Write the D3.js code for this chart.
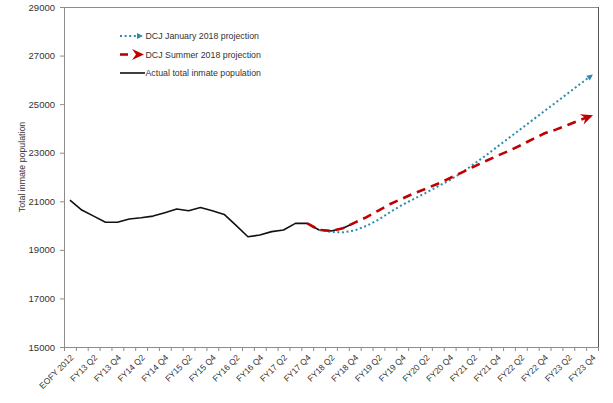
<!DOCTYPE html>
<html>
<head>
<meta charset="utf-8">
<script src="https://cdn.jsdelivr.net/npm/d3@7/dist/d3.min.js"></script>
<style>
  html, body { margin: 0; padding: 0; background: #fff; }
  svg { display: block; font-family: "Liberation Sans", Arial, sans-serif; }
</style>
</head>
<body>
<svg id="chart" width="613" height="403"></svg>
<script>
// ---------------- DATA ----------------
const categories = ["EOFY 2012"];
["13","14","15","16","17","18","19","20","21","22","23"].forEach(y => {
  ["Q1","Q2","Q3","Q4"].forEach(q => categories.push("FY" + y + " " + q));
});

// Actual total inmate population: EOFY 2012 .. FY18 Q4
const actualStart = "EOFY 2012";
const actualValues = [21050, 20640, 20390, 20135, 20135, 20270, 20320, 20390, 20530,
  20680, 20610, 20740, 20610, 20460, 20010, 19540, 19610, 19750, 19820, 20090,
  20090, 19820, 19780, 19890, 20120];

// DCJ January 2018 projection: FY18 Q1 .. FY23 Q4
const januaryStart = "FY18 Q1";
const januaryValues = [19818, 19740, 19720, 19800, 19990, 20240, 20560, 20850, 21100,
  21350, 21610, 21870, 22170, 22520, 22870, 23240, 23610, 23980, 24350, 24720,
  25090, 25460, 25830, 26200];

// DCJ Summer 2018 projection: FY17 Q4 .. FY23 Q4
const summerStart = "FY17 Q4";
const summerValues = [20090, 19820, 19780, 19890, 20120, 20350, 20620, 20890, 21110,
  21330, 21520, 21720, 21950, 22180, 22420, 22650, 22870, 23080, 23310, 23560,
  23800, 23960, 24150, 24350, 24530];

const yTicks = [15000, 17000, 19000, 21000, 23000, 25000, 27000, 29000];
const xLabels = categories.filter((c, i) => i % 2 === 0);

const legendItems = [
  { label: "DCJ January 2018 projection", key: "jan" },
  { label: "DCJ Summer 2018 projection", key: "sum" },
  { label: "Actual total inmate population", key: "act" }
];

// ---------------- LAYOUT ----------------
const svg = d3.select("#chart");
const plot = { left: 64, right: 598, top: 7, bottom: 347 };
const colors = { jan: "#3189ac", sum: "#c00000", act: "#111111" };
const textColor = "#333";

const x = d3.scaleBand().domain(categories).range([plot.left, plot.right]).padding(0);
const xEdge = d3.scaleLinear().domain([0, categories.length]).range([plot.left, plot.right]);
const y = d3.scaleLinear().domain([15000, 29000]).range([plot.bottom, plot.top]);
const cx = c => x(c) + x.bandwidth() / 2;

function seriesPoints(start, values) {
  const s = categories.indexOf(start);
  return values.map((v, i) => ({ c: categories[s + i], v }));
}

// markers
const defs = svg.append("defs");
defs.append("marker")
  .attr("id", "arrowBlue").attr("markerUnits", "userSpaceOnUse")
  .attr("viewBox", "-6 -4 8 8").attr("refX", 0).attr("refY", 0)
  .attr("markerWidth", 8).attr("markerHeight", 8).attr("orient", "auto")
  .append("path").attr("d", "M1,0 L-5,-3 L-5,3 Z").attr("fill", colors.jan);
defs.append("marker")
  .attr("id", "arrowRed").attr("markerUnits", "userSpaceOnUse")
  .attr("viewBox", "-13 -7 15 14").attr("refX", 0).attr("refY", 0)
  .attr("markerWidth", 15).attr("markerHeight", 14).attr("orient", "auto")
  .append("path").attr("d", "M1,0 L-11,-5.5 L-7,0 L-11,5.5 Z").attr("fill", colors.sum);

// plot border
svg.append("rect")
  .attr("x", plot.left).attr("y", plot.top)
  .attr("width", plot.right - plot.left).attr("height", plot.bottom - plot.top)
  .attr("fill", "none").attr("stroke", "#8c8c8c").attr("stroke-width", 1)
  .attr("shape-rendering", "crispEdges");
svg.append("line")
  .attr("x1", plot.right).attr("x2", plot.right).attr("y1", plot.top).attr("y2", plot.bottom)
  .attr("stroke", "#555").attr("stroke-width", 1).attr("shape-rendering", "crispEdges");

// y axis
const yAxis = svg.append("g")
  .attr("transform", `translate(${plot.left},0)`)
  .call(d3.axisLeft(y).tickValues(yTicks).tickFormat(d3.format("d")).tickSize(4).tickPadding(5));
yAxis.select(".domain").attr("stroke", "#8c8c8c");
yAxis.selectAll(".tick line").attr("stroke", "#8c8c8c");
yAxis.selectAll("text").attr("font-size", "9.5px").attr("fill", textColor);

// x axis tick marks (between categories)
const xTickAxis = svg.append("g")
  .attr("transform", `translate(0,${plot.bottom})`)
  .call(d3.axisBottom(xEdge).tickValues(d3.range(categories.length + 1)).tickFormat("").tickSize(4));
xTickAxis.select(".domain").attr("stroke", "#8c8c8c");
xTickAxis.selectAll(".tick line").attr("stroke", "#8c8c8c");

// x axis labels
const xLabelAxis = svg.append("g")
  .attr("transform", `translate(0,${plot.bottom})`)
  .call(d3.axisBottom(x).tickValues(xLabels).tickSize(0));
xLabelAxis.select(".domain").remove();
xLabelAxis.selectAll("text")
  .attr("x", 0).attr("y", 0).attr("dy", "0.35em")
  .attr("text-anchor", "end")
  .attr("transform", "translate(2,9) rotate(-45)")
  .attr("font-size", "8.5px").attr("fill", textColor);

// y axis title
svg.append("text")
  .attr("transform", `translate(25,167) rotate(-90)`)
  .attr("text-anchor", "middle")
  .attr("font-size", "8.8px").attr("fill", textColor)
  .text("Total inmate population");

// lines
const line = d3.line().x(d => cx(d.c)).y(d => y(d.v));

svg.append("path")
  .datum(seriesPoints(actualStart, actualValues))
  .attr("d", line).attr("fill", "none")
  .attr("stroke", colors.act).attr("stroke-width", 1.6).attr("stroke-linejoin", "round");

svg.append("path")
  .datum(seriesPoints(januaryStart, januaryValues))
  .attr("d", line).attr("fill", "none")
  .attr("stroke", colors.jan).attr("stroke-width", 2)
  .attr("stroke-dasharray", "2,2.6")
  .attr("marker-end", "url(#arrowBlue)");

svg.append("path")
  .datum(seriesPoints(summerStart, summerValues))
  .attr("d", line).attr("fill", "none")
  .attr("stroke", colors.sum).attr("stroke-width", 2.6)
  .attr("stroke-dasharray", "9,6")
  .attr("marker-end", "url(#arrowRed)");

// legend
const legend = svg.append("g");
const legY = d3.scalePoint().domain(legendItems.map(d => d.key)).range([36, 73]);
legendItems.forEach(it => {
  const yy = legY(it.key);
  if (it.key === "jan") {
    legend.append("line").attr("x1", 120).attr("x2", 142).attr("y1", yy).attr("y2", yy)
      .attr("stroke", colors.jan).attr("stroke-width", 2).attr("stroke-dasharray", "2,2.6")
      .attr("marker-end", "url(#arrowBlue)");
  } else if (it.key === "sum") {
    legend.append("line").attr("x1", 120).attr("x2", 143).attr("y1", yy).attr("y2", yy)
      .attr("stroke", colors.sum).attr("stroke-width", 2.6).attr("stroke-dasharray", "8,20")
      .attr("marker-end", "url(#arrowRed)");
  } else {
    legend.append("line").attr("x1", 120).attr("x2", 145).attr("y1", yy).attr("y2", yy)
      .attr("stroke", colors.act).attr("stroke-width", 1.6);
  }
  legend.append("text").attr("x", 145.5).attr("y", yy).attr("dy", "0.35em")
    .attr("font-size", "8.8px").attr("fill", textColor).text(it.label);
});
</script>
</body>
</html>
